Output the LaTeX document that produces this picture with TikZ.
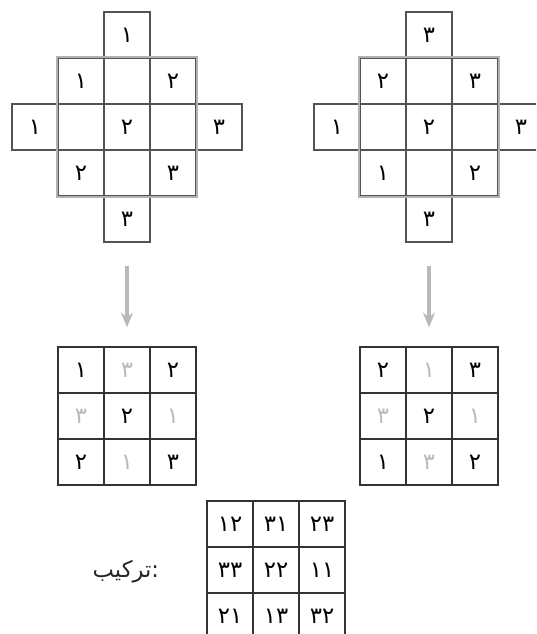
\documentclass[tikz,border=0pt]{standalone}
\usepackage{fontspec}
\newfontfamily\farsi[Script=Arabic]{DejaVu Sans}
\TeXXeTstate=1
\usetikzlibrary{arrows.meta, positioning}

\begin{document}
\begin{tikzpicture}[
  x=0.75pt, y=-0.75pt,
  cell/.style={rectangle, draw=gray!65!black, line width=1.4pt, minimum size=34.5pt,
               inner sep=0pt, font=\farsi\fontsize{17}{17}\selectfont},
  sq/.style={rectangle, draw=black!80, line width=1.6pt, minimum size=34.5pt,
             inner sep=0pt, font=\farsi\fontsize{17}{17}\selectfont},
  faint/.style={sq, text=gray!55},
  block/.style={draw=gray!60, line width=2pt},
  arr/.style={-{Stealth[length=11pt, width=9pt]}, draw=gray!55, line width=2.6pt,
              shorten <=17pt, shorten >=14pt},
  lbl/.style={inner sep=0pt, font=\farsi\fontsize{17}{17}\selectfont, text=black!85}
]
  \useasboundingbox (0,0) rectangle (536,634);
  \clip (0,0) rectangle (536,634);

  % Diamond, left
  \foreach \c/\r/\t in {3/1/۱, 2/2/۱, 3/2/{}, 4/2/۲, 1/3/۱, 2/3/{}, 3/3/۲, 4/3/{},
                        5/3/۳, 2/4/۲, 3/4/{}, 4/4/۳, 3/5/۳}
    \node[cell] (dl-\c-\r) at ({127+(\c-3)*46}, {127+(\r-3)*46}) {\t};
  \draw[block] (dl-2-2.north west) rectangle (dl-4-4.south east);

  % Diamond, right
  \foreach \c/\r/\t in {3/1/۳, 2/2/۲, 3/2/{}, 4/2/۳, 1/3/۱, 2/3/{}, 3/3/۲, 4/3/{},
                        5/3/۳, 2/4/۱, 3/4/{}, 4/4/۲, 3/5/۳}
    \node[cell] (dr-\c-\r) at ({429+(\c-3)*46}, {127+(\r-3)*46}) {\t};
  \draw[block] (dr-2-2.north west) rectangle (dr-4-4.south east);

  % Squares from the diamonds
  \foreach \c/\r/\t/\s in {1/1/۱/sq, 2/1/۳/faint, 3/1/۲/sq,
                           1/2/۳/faint, 2/2/۲/sq, 3/2/۱/faint,
                           1/3/۲/sq, 2/3/۱/faint, 3/3/۳/sq}
    \node[\s] (gl-\c-\r) at ({127+(\c-2)*46}, {416+(\r-2)*46}) {\t};
  \foreach \c/\r/\t/\s in {1/1/۲/sq, 2/1/۱/faint, 3/1/۳/sq,
                           1/2/۳/faint, 2/2/۲/sq, 3/2/۱/faint,
                           1/3/۱/sq, 2/3/۳/faint, 3/3/۲/sq}
    \node[\s] (gr-\c-\r) at ({429+(\c-2)*46}, {416+(\r-2)*46}) {\t};

  \draw[arr] (dl-3-5) -- (gl-2-1);
  \draw[arr] (dr-3-5) -- (gr-2-1);

  % Combined square
  \foreach \c/\r/\t in {1/1/۱۲, 2/1/۳۱, 3/1/۲۳, 1/2/۳۳, 2/2/۲۲, 3/2/۱۱,
                        1/3/۲۱, 2/3/۱۳, 3/3/۳۲}
    \node[sq] (gc-\c-\r) at ({276+(\c-2)*46}, {570+(\r-2)*46}) {\t};

  \node[lbl, left=35pt of gc-1-2, yshift=-1pt] (tarkib) {\beginR ترکیب\endR:};
\end{tikzpicture}
\end{document}
